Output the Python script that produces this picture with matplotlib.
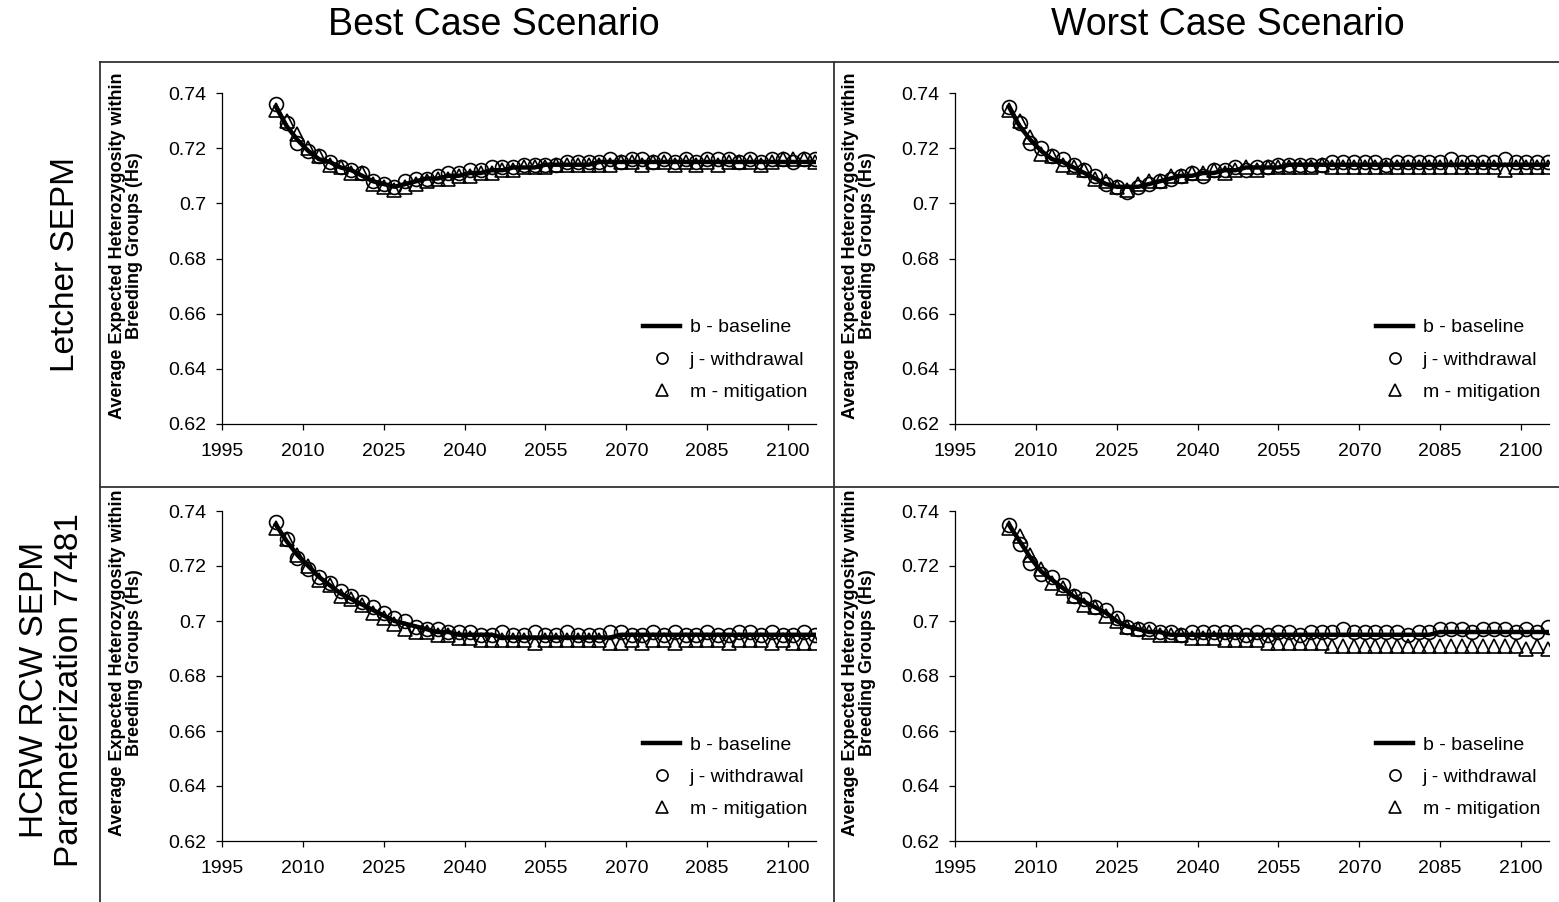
import matplotlib
matplotlib.use("Agg")
import matplotlib.pyplot as plt
from matplotlib.lines import Line2D

plt.rcParams['font.family'] = ['Liberation Sans', 'DejaVu Sans']

# ---------------- data ----------------
years = list(range(2005, 2106, 2))

col_titles = ["Best Case Scenario", "Worst Case Scenario"]
row_titles = ["Letcher SEPM", "HCRW RCW SEPM\nParameterization 77481"]
series_labels = ["b - baseline", "j - withdrawal", "m - mitigation"]
y_ticks = [0.62, 0.64, 0.66, 0.68, 0.70, 0.72, 0.74]
y_ticklabels = ["0.62", "0.64", "0.66", "0.68", "0.7", "0.72", "0.74"]
x_ticks = [1995, 2010, 2025, 2040, 2055, 2070, 2085, 2100]
y_label = "Average Expected Heterozygosity within\nBreeding Groups (Hs)"

# Best case, Letcher SEPM
best_letcher_b = [0.735, 0.728, 0.723, 0.719, 0.716, 0.715, 0.713, 0.712, 0.710, 0.708,
                  0.707, 0.706, 0.707, 0.708, 0.709, 0.709, 0.710, 0.710, 0.711, 0.711,
                  0.712, 0.712, 0.713, 0.713, 0.713, 0.714, 0.714, 0.714, 0.714, 0.714,
                  0.715, 0.715, 0.715, 0.715, 0.715, 0.715, 0.715, 0.715, 0.715, 0.715,
                  0.715, 0.715, 0.715, 0.715, 0.715, 0.715, 0.715, 0.715, 0.715, 0.715,
                  0.715]
best_letcher_j = [0.736, 0.729, 0.722, 0.719, 0.717, 0.715, 0.713, 0.712, 0.711, 0.708,
                  0.707, 0.706, 0.708, 0.709, 0.709, 0.710, 0.711, 0.711, 0.712, 0.712,
                  0.713, 0.713, 0.713, 0.714, 0.714, 0.714, 0.714, 0.715, 0.715, 0.715,
                  0.715, 0.716, 0.715, 0.716, 0.716, 0.715, 0.716, 0.715, 0.716, 0.715,
                  0.716, 0.716, 0.716, 0.715, 0.716, 0.715, 0.716, 0.716, 0.715, 0.716,
                  0.716]
best_letcher_m = [0.734, 0.730, 0.725, 0.720, 0.717, 0.714, 0.713, 0.711, 0.711, 0.707,
                  0.706, 0.705, 0.706, 0.707, 0.708, 0.709, 0.709, 0.710, 0.710, 0.711,
                  0.711, 0.712, 0.712, 0.713, 0.713, 0.713, 0.714, 0.714, 0.714, 0.714,
                  0.714, 0.714, 0.715, 0.715, 0.714, 0.715, 0.715, 0.714, 0.715, 0.714,
                  0.715, 0.714, 0.715, 0.715, 0.715, 0.714, 0.715, 0.716, 0.716, 0.716,
                  0.715]

# Worst case, Letcher SEPM
worst_letcher_b = [0.735, 0.728, 0.723, 0.719, 0.716, 0.715, 0.713, 0.711, 0.709, 0.707,
                   0.706, 0.706, 0.706, 0.707, 0.708, 0.709, 0.710, 0.710, 0.711, 0.711,
                   0.712, 0.712, 0.713, 0.713, 0.713, 0.713, 0.714, 0.714, 0.714, 0.714,
                   0.714, 0.714, 0.714, 0.714, 0.714, 0.714, 0.714, 0.714, 0.714, 0.714,
                   0.714, 0.714, 0.714, 0.714, 0.714, 0.714, 0.714, 0.714, 0.714, 0.714,
                   0.714]
worst_letcher_j = [0.735, 0.729, 0.722, 0.720, 0.717, 0.716, 0.714, 0.712, 0.710, 0.707,
                   0.706, 0.704, 0.706, 0.707, 0.708, 0.709, 0.710, 0.711, 0.710, 0.712,
                   0.712, 0.713, 0.712, 0.713, 0.713, 0.714, 0.714, 0.714, 0.714, 0.714,
                   0.715, 0.715, 0.715, 0.715, 0.715, 0.714, 0.715, 0.715, 0.715, 0.715,
                   0.715, 0.716, 0.715, 0.715, 0.715, 0.715, 0.716, 0.715, 0.715, 0.715,
                   0.715]
worst_letcher_m = [0.734, 0.730, 0.724, 0.718, 0.717, 0.714, 0.713, 0.712, 0.709, 0.708,
                   0.706, 0.705, 0.707, 0.708, 0.708, 0.710, 0.710, 0.711, 0.711, 0.712,
                   0.711, 0.712, 0.713, 0.712, 0.713, 0.713, 0.713, 0.713, 0.713, 0.714,
                   0.713, 0.713, 0.713, 0.713, 0.713, 0.713, 0.713, 0.713, 0.713, 0.713,
                   0.713, 0.713, 0.713, 0.713, 0.713, 0.713, 0.712, 0.713, 0.713, 0.713,
                   0.713]

# Best case, HCRW RCW SEPM
best_hcrw_b = [0.735, 0.729, 0.724, 0.720, 0.716, 0.713, 0.710, 0.708, 0.706, 0.704,
               0.702, 0.700, 0.699, 0.698, 0.697, 0.696, 0.696, 0.695, 0.695, 0.695,
               0.695, 0.694, 0.694, 0.694, 0.694, 0.694, 0.694, 0.694, 0.694, 0.694,
               0.694, 0.694, 0.695, 0.695, 0.695, 0.695, 0.695, 0.695, 0.695, 0.695,
               0.695, 0.695, 0.695, 0.695, 0.695, 0.695, 0.695, 0.695, 0.695, 0.695,
               0.695]
best_hcrw_j = [0.736, 0.730, 0.723, 0.719, 0.716, 0.714, 0.711, 0.709, 0.707, 0.705,
               0.703, 0.701, 0.700, 0.698, 0.697, 0.697, 0.696, 0.696, 0.696, 0.695,
               0.695, 0.696, 0.695, 0.695, 0.696, 0.695, 0.695, 0.696, 0.695, 0.695,
               0.695, 0.696, 0.696, 0.695, 0.695, 0.696, 0.695, 0.696, 0.695, 0.695,
               0.696, 0.695, 0.695, 0.696, 0.696, 0.695, 0.696, 0.695, 0.695, 0.696,
               0.695]
best_hcrw_m = [0.734, 0.730, 0.724, 0.720, 0.715, 0.713, 0.709, 0.708, 0.706, 0.703,
               0.701, 0.699, 0.697, 0.696, 0.696, 0.695, 0.695, 0.694, 0.694, 0.693,
               0.693, 0.693, 0.693, 0.693, 0.692, 0.693, 0.693, 0.693, 0.693, 0.693,
               0.693, 0.692, 0.692, 0.693, 0.692, 0.693, 0.693, 0.692, 0.693, 0.693,
               0.693, 0.693, 0.692, 0.693, 0.693, 0.693, 0.692, 0.693, 0.692, 0.692,
               0.692]

# Worst case, HCRW RCW SEPM
worst_hcrw_b = [0.735, 0.729, 0.723, 0.718, 0.715, 0.712, 0.709, 0.707, 0.705, 0.703,
                0.700, 0.698, 0.697, 0.696, 0.696, 0.695, 0.695, 0.695, 0.695, 0.695,
                0.695, 0.695, 0.695, 0.695, 0.695, 0.695, 0.695, 0.695, 0.695, 0.695,
                0.695, 0.695, 0.695, 0.695, 0.695, 0.695, 0.695, 0.695, 0.695, 0.695,
                0.696, 0.696, 0.696, 0.696, 0.696, 0.696, 0.696, 0.696, 0.696, 0.696,
                0.696]
worst_hcrw_j = [0.735, 0.728, 0.721, 0.717, 0.716, 0.713, 0.709, 0.708, 0.705, 0.704,
                0.701, 0.698, 0.697, 0.697, 0.696, 0.696, 0.695, 0.696, 0.696, 0.696,
                0.696, 0.696, 0.695, 0.696, 0.695, 0.696, 0.696, 0.695, 0.696, 0.696,
                0.696, 0.697, 0.696, 0.696, 0.696, 0.696, 0.696, 0.695, 0.696, 0.696,
                0.697, 0.697, 0.697, 0.696, 0.697, 0.697, 0.697, 0.696, 0.697, 0.696,
                0.698]
worst_hcrw_m = [0.734, 0.731, 0.724, 0.719, 0.714, 0.712, 0.709, 0.706, 0.705, 0.702,
                0.700, 0.698, 0.697, 0.696, 0.695, 0.695, 0.695, 0.694, 0.694, 0.694,
                0.693, 0.693, 0.693, 0.693, 0.692, 0.692, 0.692, 0.692, 0.692, 0.692,
                0.691, 0.691, 0.691, 0.691, 0.691, 0.691, 0.691, 0.691, 0.691, 0.691,
                0.691, 0.691, 0.691, 0.691, 0.691, 0.691, 0.691, 0.691, 0.690, 0.691,
                0.690]

panels = [
    [(best_letcher_b, best_letcher_j, best_letcher_m),
     (worst_letcher_b, worst_letcher_j, worst_letcher_m)],
    [(best_hcrw_b, best_hcrw_j, best_hcrw_m),
     (worst_hcrw_b, worst_hcrw_j, worst_hcrw_m)],
]

# ---------------- figure ----------------
W, H = 1559, 902
fig = plt.figure(figsize=(W / 100, H / 100), dpi=100)

def fx(px):
    return px / W

def fy(py):
    return 1 - py / H

# axes extents in pixels
col_lr = [(222, 816), (955, 1549)]
row_tb = [(93, 424), (511, 841)]

for r in range(2):
    for c in range(2):
        l, rr = col_lr[c]
        t, b = row_tb[r]
        ax = fig.add_axes([fx(l), fy(b), fx(rr) - fx(l), fy(t) - fy(b)])
        base, wd, mit = panels[r][c]
        ax.plot(years, base, color='black', lw=3.2, zorder=2, label=series_labels[0])
        ax.plot(years, wd, ls='none', marker='o', ms=10, mfc='none', mec='black',
                mew=1.2, zorder=3, label=series_labels[1])
        ax.plot(years, mit, ls='none', marker='^', ms=10, mfc='none', mec='black',
                mew=1.2, zorder=3, label=series_labels[2])
        ax.set_xlim(1995, 2105.2)
        ax.set_ylim(0.62, 0.74)
        ax.set_xticks(x_ticks)
        ax.set_xticklabels([str(v) for v in x_ticks])
        ax.set_yticks(y_ticks)
        ax.set_yticklabels(y_ticklabels)
        for s in ['top', 'right']:
            ax.spines[s].set_visible(False)
        for s in ['left', 'bottom']:
            ax.spines[s].set_linewidth(0.9)
            ax.spines[s].set_color('black')
        ax.tick_params(axis='both', direction='out', length=4, width=0.9,
                       labelsize=14, colors='black')
        ax.tick_params(axis='y', pad=7)
        ax.tick_params(axis='x', pad=10)
        ax.patch.set_alpha(0)
        ax.text(-0.162, 0.54, y_label, transform=ax.transAxes, rotation=90,
                ha='center', va='center', fontsize=13, fontweight='bold',
                linespacing=1.0)
        leg = ax.legend(loc='lower right', bbox_to_anchor=(0.985, 0.07),
                        frameon=False, fontsize=14, handlelength=1.9,
                        handletextpad=0.5, labelspacing=0.75, borderpad=0,
                        borderaxespad=0, markerscale=0.8)

# column titles
fig.text(fx(494), fy(25), col_titles[0], fontsize=27, ha='center', va='center')
fig.text(fx(1228), fy(25), col_titles[1], fontsize=27, ha='center', va='center')
# row titles
fig.text(fx(65), fy(264), row_titles[0], fontsize=24, ha='center', va='center',
         rotation=90)
fig.text(fx(52), fy(690), row_titles[1], fontsize=24, ha='center', va='center',
         rotation=90, linespacing=1.15)

# frame lines
lc = '#333333'
fig.add_artist(Line2D([fx(100), 1], [fy(62), fy(62)], color=lc, lw=1.3))
fig.add_artist(Line2D([fx(100), 1], [fy(487), fy(487)], color=lc, lw=1.3))
fig.add_artist(Line2D([fx(100), fx(100)], [fy(62), 0], color=lc, lw=1.3))
fig.add_artist(Line2D([fx(834), fx(834)], [fy(62), 0], color=lc, lw=1.3))

fig.savefig("out.png", dpi=100)
